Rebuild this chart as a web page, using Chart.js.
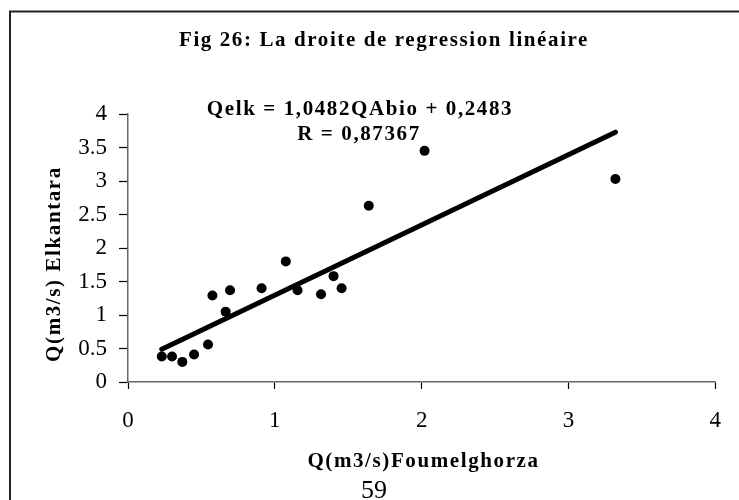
<!DOCTYPE html>
<html>
<head>
<meta charset="utf-8">
<script src="https://cdn.jsdelivr.net/npm/chart.js@4"></script>
<style>
  body { margin: 0; background: #fff; }
  #wrap { width: 739px; height: 500px; }
</style>
</head>
<body>
<div id="wrap"><canvas id="myChart" width="739" height="500"></canvas></div>
<script>
// debits (m3/s) : Foum el Ghorza (x) vs Elkantara (y)
var qFoum = [0.23, 0.30, 0.37, 0.45, 0.545, 0.575, 0.665, 0.695, 0.91, 1.075, 1.155, 1.315, 1.40, 1.455, 1.64, 2.02, 3.32];
var qElk  = [0.38, 0.38, 0.30, 0.41, 0.56, 1.29, 1.05, 1.37, 1.40, 1.80, 1.37, 1.31, 1.58, 1.40, 2.63, 3.45, 3.03];
var xTicks = ["0", "1", "2", "3", "4"];
var yTicks = ["0", "0.5", "1", "1.5", "2", "2.5", "3", "3.5", "4"];
// droite de regression : Qelk = a*Qabio + b
var coefA = [1.0482];
var coefB = [0.2483];

var xMin = Math.min.apply(null, qFoum);
var xMax = Math.max.apply(null, qFoum);
var regLine = [xMin, xMax].map(function (x) {
  return { x: x, y: coefA[0] * x + coefB[0] };
});
var pts = qFoum.map(function (x, i) {
  return { x: x, y: qElk[i] };
});

var serif = "'Liberation Serif', 'Times New Roman', serif";

var textPlugin = {
  id: "textPlugin",
  beforeDraw: function (chart) {
    var ctx = chart.ctx;
    ctx.save();
    ctx.strokeStyle = "#222";
    ctx.lineWidth = 2;
    ctx.beginPath();
    ctx.moveTo(10, 500);
    ctx.lineTo(10, 11.5);
    ctx.lineTo(739, 11.5);
    ctx.stroke();
    ctx.restore();
  },
  afterDraw: function (chart) {
    var ctx = chart.ctx;
    ctx.save();
    ctx.fillStyle = "#000";
    ctx.textAlign = "center";
    ctx.textBaseline = "alphabetic";
    ctx.letterSpacing = "1.6px";
    ctx.font = "bold 21px " + serif;
    ctx.fillText("Fig 26: La droite de regression linéaire", 384, 46);
    ctx.fillText("Qelk = 1,0482QAbio + 0,2483", 360, 115);
    ctx.fillText("R = 0,87367", 359, 140);
    ctx.fillText("Q(m3/s)Foumelghorza", 423.5, 467);
    ctx.save();
    ctx.translate(55, 264);
    ctx.rotate(-Math.PI / 2);
    ctx.textBaseline = "middle";
    ctx.fillText("Q(m3/s) Elkantara", 0, 0);
    ctx.restore();
    ctx.letterSpacing = "0px";
    ctx.font = "26px " + serif;
    ctx.fillText("59", 374, 498);
    ctx.restore();
  }
};

new Chart("myChart", {
  type: "scatter",
  data: {
    datasets: [{
      data: pts,
      backgroundColor: "#000",
      borderWidth: 0,
      pointRadius: 5,
      pointHoverRadius: 5
    }, {
      data: regLine,
      showLine: true,
      borderColor: "#000",
      borderWidth: 5,
      borderCapStyle: "round",
      pointRadius: 0
    }]
  },
  options: {
    responsive: false,
    animation: false,
    events: [],
    layout: { padding: { left: 0, right: 20, top: 114, bottom: 0 } },
    plugins: {
      legend: { display: false },
      title: { display: false },
      tooltip: { enabled: false }
    },
    scales: {
      x: {
        type: "linear",
        min: 0,
        max: 4,
        afterFit: function (scale) { scale.height = 118; },
        border: { display: true, color: "#666", width: 1.5 },
        grid: { drawOnChartArea: false, drawTicks: true, tickLength: 7, tickColor: "#000", tickWidth: 1.2 },
        ticks: {
          stepSize: 1,
          padding: 18,
          color: "#000",
          font: { family: serif, size: 23 },
          callback: function (v) { return xTicks[Math.round(v)]; }
        }
      },
      y: {
        type: "linear",
        min: 0,
        max: 4,
        afterFit: function (scale) { scale.width = 128; },
        border: { display: true, color: "#666", width: 1.5 },
        grid: { drawOnChartArea: false, drawTicks: true, tickLength: 9, tickColor: "#000", tickWidth: 1.2 },
        ticks: {
          stepSize: 0.5,
          padding: 12,
          color: "#000",
          font: { family: serif, size: 23 },
          callback: function (v) { return yTicks[Math.round(v * 2)]; }
        }
      }
    }
  },
  plugins: [textPlugin]
});
</script>
</body>
</html>
